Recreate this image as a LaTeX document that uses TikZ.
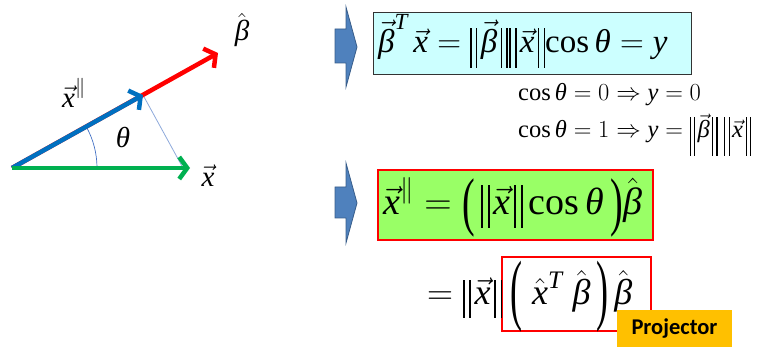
\RequirePackage{fix-cm}
\documentclass[tikz,border=0pt]{standalone}
\usepackage{amsmath}
\usepackage{graphicx}
\usepackage[no-math]{fontspec}
\setmainfont{Liberation Serif}
\newfontfamily\projfont{Carlito}
\usetikzlibrary{arrows.meta}
\newcommand\ti[1]{\text{\itshape #1}}
\newcommand\vx{\vec{\ti{x}}}
\newcommand\vbeta{\vec{\ti{β}}}
\newcommand\hbeta{\hat{\ti{β}}}
\newcommand\hx{\hat{\ti{x}}}
\newcommand\tth{\ti{θ}}
\newcommand\mcos{\text{cos}\,}
% double bar of given height above and depth below the baseline
\newcommand\dbar[2]{\text{\rule[-#2]{0.045em}{\dimexpr#1+#2\relax}\kern0.13em\rule[-#2]{0.045em}{\dimexpr#1+#2\relax}}}
\newcommand\nrm[3]{\mathopen{\dbar{#1}{#2}}\kern0.1em#3\kern0.1em\mathclose{\dbar{#1}{#2}}}
% stretched text parenthesis: #1 glyph, #2 vertical scale, #3 raise
\newcommand\spar[3]{\text{\raisebox{#3}{\scalebox{1}[#2]{#1}}}}
\definecolor{vred}{HTML}{FF0000}
\definecolor{vblue}{HTML}{0070C0}
\definecolor{vgreen}{HTML}{00B050}
\definecolor{thinblue}{HTML}{8EA9DB}
\definecolor{arcblue}{HTML}{4472C4}
\definecolor{blockfill}{HTML}{4F81BD}
\definecolor{blockdraw}{HTML}{385D8A}
\definecolor{cyanfill}{HTML}{CCFFFF}
\definecolor{greenfill}{HTML}{99FF66}
\definecolor{projfill}{HTML}{FFC000}
\tikzset{
  vecarrow/.style={line width=4.5pt, -{Straight Barb[length=8pt,width=22pt]}},
  blockarrow/.style={fill=blockfill, draw=blockdraw, line width=0.8pt, line join=miter},
  biglabel/.style={font=\fontsize{29}{32}\selectfont, inner sep=0pt},
  eq/.style={inner sep=0pt, anchor=base west},
  smalleq/.style={eq, font=\fontsize{24.5}{28}\selectfont},
}
\begin{document}
\begin{tikzpicture}[x=1pt,y=1pt]
\useasboundingbox (0,0) rectangle (760,-347);
% left diagram
\coordinate (O) at (12,-168);
\coordinate (B) at (218,-53);
\coordinate (P) at (143,-95);
\coordinate (X) at (190,-168);
\coordinate (Xf) at (183,-168);
\draw[thinblue, line width=0.8pt] (P) -- (Xf);
\draw[arcblue, line width=0.7pt] (97,-168) arc[start angle=0, end angle=29.2, radius=85];
\draw[vecarrow, vred] (O) -- (B);
\draw[vecarrow, vblue] (O) -- (P);
\draw[vecarrow, vgreen] (O) -- (X);
\node[biglabel] (lb) at (242,-30) {$\hbeta$};
\node[biglabel] (lx) at (208,-176) {$\vx$};
\node[biglabel] (lxp) at (74,-93) {$\vx^{\|}$};
\node[biglabel] (lt) at (123,-138) {$\tth$};
% block arrows
\draw[blockarrow] (335,-29) -- (346,-29) -- (346,-7) -- (357,-47) -- (346,-87) -- (346,-63) -- (335,-63) -- cycle;
\draw[blockarrow] (335,-187) -- (346,-187) -- (346,-163) -- (357,-203) -- (346,-243) -- (346,-218) -- (335,-218) -- cycle;
% top box
\draw[draw=black!80, line width=0.8pt, fill=cyanfill] (373,-12) rectangle (691,-74);
\node[eq, font=\fontsize{33}{38}\selectfont] (top) at (378,-53)
  {$\vbeta^{\ti{T}}\,\vx=\nrm{25pt}{15pt}{\vbeta}\kern0.05em\nrm{25pt}{15pt}{\vx}\mcos\tth=\ti{y}$};
\node[smalleq] (c0) at (518,-101) {$\mcos\tth=0\Rightarrow \ti{y}=0$};
\node[smalleq] (c1) at (518,-138) {$\mcos\tth=1\Rightarrow \ti{y}=\nrm{21pt}{18pt}{\vbeta}\;\nrm{21pt}{18pt}{\vx}$};
% green box
\draw[draw=vred, line width=1.5pt, fill=greenfill] (378,-170) rectangle (653,-240);
\node[eq, font=\fontsize{38}{42}\selectfont] (gr) at (383,-215)
  {$\vx^{\|}=\mathopen{\spar{(}{1.70}{-8.5pt}}\,\nrm{30pt}{13pt}{\vx}\,\mcos\tth\,\mathclose{\spar{)}{1.70}{-8.5pt}}\hbeta$};
% bottom
\draw[draw=vred, line width=1.5pt] (502,-257) rectangle (651,-331);
\node[eq, font=\fontsize{36}{42}\selectfont] (bot) at (427,-305)
  {$=\nrm{25pt}{13pt}{\vx}\kern0.22em\mathopen{\spar{(}{2.18}{-11pt}}\;\hx^{\ti{T}}\;\hbeta\,\mathclose{\spar{)}{2.18}{-11pt}}\,\hbeta$};
\node[fill=projfill, minimum width=115pt, minimum height=37pt, inner sep=0pt,
      font=\projfont\bfseries\fontsize{22.5}{26}\selectfont] (proj) at (674.5,-328.5) {Projector};
\end{tikzpicture}
\end{document}
